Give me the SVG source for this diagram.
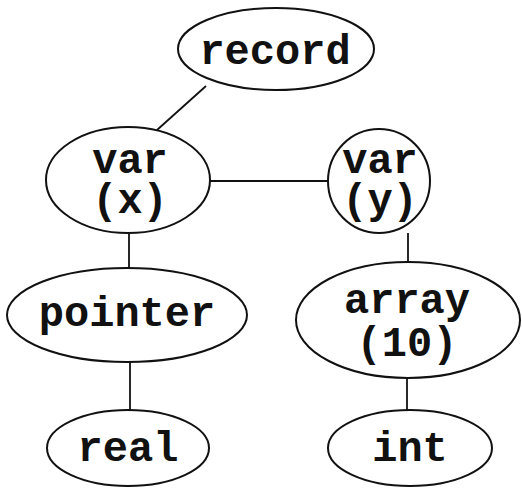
<svg xmlns="http://www.w3.org/2000/svg" width="522" height="488" viewBox="0 0 522 488">
<style>
.n ellipse{fill:#fff;stroke:#111;stroke-width:2}
.n text{font-family:"Liberation Mono","Courier New",monospace;font-weight:bold;font-size:42px;fill:#111;text-anchor:middle}
#edges line{stroke:#111;stroke-width:1.8}
</style>
<rect width="522" height="488" fill="#fff"/>
<g id="edges">
<line x1="206" y1="86" x2="157" y2="130"/>
<line x1="210" y1="181" x2="328" y2="181"/>
<line x1="129" y1="233" x2="129" y2="268"/>
<line x1="408" y1="233" x2="408" y2="262"/>
<line x1="130" y1="362" x2="130" y2="410"/>
<line x1="407" y1="378" x2="407" y2="410"/>
</g>
<g id="record" class="n"><ellipse cx="276" cy="49" rx="98" ry="41"/><text x="275" y="64">record</text></g>
<g id="varx" class="n"><ellipse cx="128" cy="180" rx="82" ry="53"/><text x="130" y="173">var</text><text x="130" y="213">(x)</text></g>
<g id="vary" class="n"><ellipse cx="379" cy="181" rx="51" ry="52"/><text x="380" y="173">var</text><text x="380" y="213">(y)</text></g>
<g id="pointer" class="n"><ellipse cx="127" cy="315" rx="120" ry="47"/><text x="127" y="326">pointer</text></g>
<g id="array" class="n"><ellipse cx="408" cy="320" rx="112" ry="58"/><text x="407" y="313">array</text><text x="407" y="356">(10)</text></g>
<g id="real" class="n"><ellipse cx="128" cy="448" rx="81" ry="38"/><text x="128" y="461">real</text></g>
<g id="int" class="n"><ellipse cx="410" cy="448" rx="82" ry="38"/><text x="410" y="461">int</text></g>
</svg>
